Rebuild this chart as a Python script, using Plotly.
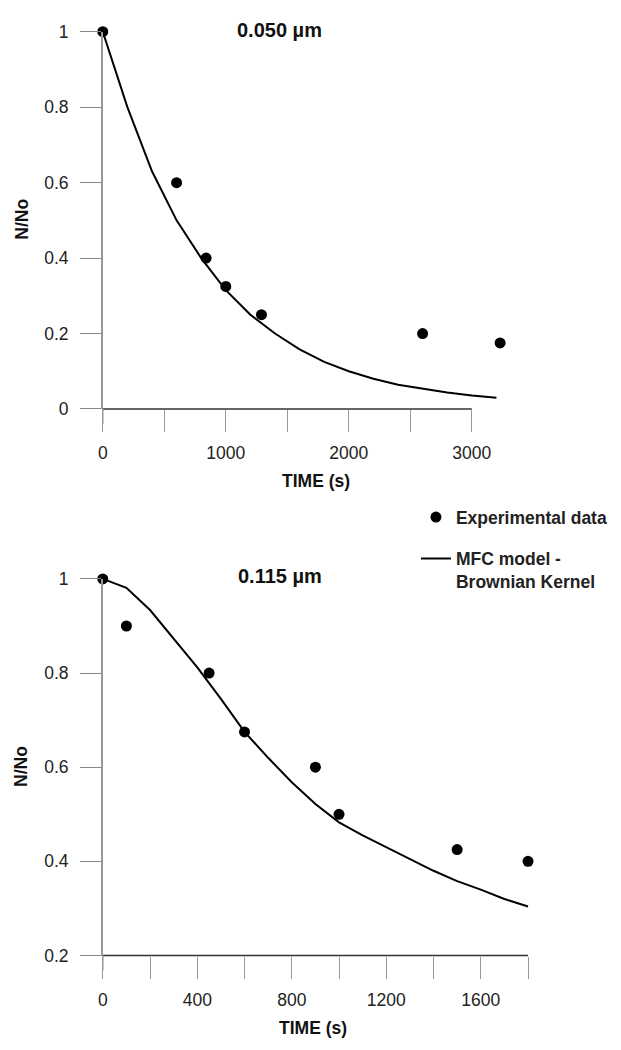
import plotly.graph_objects as go

# The page body has an 8px default margin, so the figure is sized to fit the window.
OFF = 8
FW, FH = 621 - 2 * OFF, 1050 - 2 * OFF


def px(sx):
    return (sx - OFF) / FW


def py(sy):
    return 1 - (sy - OFF) / FH


# ---- Panel A : 0.050 um ----
exp_t_a = [0, 600, 840, 1000, 1290, 2600, 3230]
exp_n_a = [1.0, 0.60, 0.40, 0.325, 0.25, 0.20, 0.175]
mod_t_a = [0, 200, 400, 600, 800, 1000, 1200, 1400, 1600, 1800, 2000,
           2200, 2400, 2600, 2800, 3000, 3200]
mod_n_a = [1.0, 0.80, 0.63, 0.50, 0.40, 0.315, 0.25, 0.20, 0.158, 0.125, 0.10,
           0.08, 0.064, 0.053, 0.044, 0.036, 0.03]

# ---- Panel B : 0.115 um ----
exp_t_b = [0, 100, 450, 600, 900, 1000, 1500, 1800]
exp_n_b = [1.0, 0.90, 0.80, 0.675, 0.60, 0.50, 0.425, 0.40]
mod_t_b = [0, 100, 200, 300, 400, 500, 600, 700, 800, 900, 1000,
           1100, 1200, 1300, 1400, 1500, 1600, 1700, 1800]
mod_n_b = [1.0, 0.981, 0.934, 0.872, 0.812, 0.745, 0.675, 0.62, 0.568, 0.522, 0.483,
           0.455, 0.43, 0.404, 0.38, 0.358, 0.34, 0.32, 0.304]

ticks_xa = [0, 500, 1000, 1500, 2000, 2500, 3000]
labels_xa = ["0", "", "1000", "", "2000", "", "3000"]
ticks_xb = [0, 200, 400, 600, 800, 1000, 1200, 1400, 1600, 1800]
labels_xb = ["0", "", "400", "", "800", "", "1200", "", "1600", ""]
ticks_ya = [0, 0.2, 0.4, 0.6, 0.8, 1.0]
labels_ya = ["0", "0.2", "0.4", "0.6", "0.8", "1"]
ticks_yb = [0.2, 0.4, 0.6, 0.8, 1.0]
labels_yb = ["0.2", "0.4", "0.6", "0.8", "1"]

FONT = "Liberation Sans, Arial, sans-serif"
TICKF = dict(family=FONT, size=17.5, color="#222")

fig = go.Figure()
fig.add_trace(go.Scatter(x=exp_t_a, y=exp_n_a, mode="markers", name="Experimental data",
                         legendgroup="exp", marker=dict(size=11, color="black"),
                         cliponaxis=False, xaxis="x", yaxis="y", showlegend=True))
fig.add_trace(go.Scatter(x=mod_t_a, y=mod_n_a, mode="lines",
                         name="MFC model -<br>Brownian Kernel", legendgroup="mod",
                         line=dict(color="black", width=2),
                         xaxis="x", yaxis="y", showlegend=True))
fig.add_trace(go.Scatter(x=exp_t_b, y=exp_n_b, mode="markers", name="Experimental data",
                         legendgroup="exp", marker=dict(size=11, color="black"),
                         cliponaxis=False, xaxis="x2", yaxis="y2", showlegend=False))
fig.add_trace(go.Scatter(x=mod_t_b, y=mod_n_b, mode="lines", name="MFC model",
                         legendgroup="mod", line=dict(color="black", width=2),
                         xaxis="x2", yaxis="y2", showlegend=False))

# screen-pixel layout
xa_dom = [px(100.7), px(100.7 + 3300 * 0.127)]
ya_dom = [py(406.7), py(22)]
xb_dom = [px(100.7), px(100.7 + 1850 * 0.2439)]
yb_dom = [py(964), py(580)]

common_x = dict(showline=False, showgrid=False, zeroline=False, ticks="outside",
                ticklen=22, tickwidth=1, tickcolor="#999", tickfont=TICKF,
                ticklabelstandoff=6)
common_y = dict(showline=True, linecolor="#999", linewidth=1.5, showgrid=False,
                zeroline=False, ticks="outside", ticklen=21, tickwidth=1,
                tickcolor="#888", tickfont=TICKF, ticklabelstandoff=8)

fig.update_layout(
    width=FW, height=FH, margin=dict(l=0, r=0, t=0, b=0),
    paper_bgcolor="white", plot_bgcolor="white",
    xaxis=dict(domain=xa_dom, range=[0, 3300], anchor="y", tickvals=ticks_xa,
               ticktext=labels_xa, **common_x),
    yaxis=dict(domain=ya_dom, range=[0, 1], anchor="x", tickvals=ticks_ya,
               ticktext=labels_ya, **common_y),
    xaxis2=dict(domain=xb_dom, range=[0, 1850], anchor="y2", tickvals=ticks_xb,
                ticktext=labels_xb, **common_x),
    yaxis2=dict(domain=yb_dom, range=[0.2, 1], anchor="x2", tickvals=ticks_yb,
                ticktext=labels_yb, **common_y),
    legend=dict(x=px(424), y=py(498.7), xanchor="left", yanchor="top",
                font=dict(family=FONT, size=17.5, color="#222", weight="bold"),
                traceorder="grouped", tracegroupgap=15.6, valign="top",
                bgcolor="rgba(0,0,0,0)", itemwidth=30),
    showlegend=True,
)

# axis base lines (ending at the last tick, as in the original)
fig.add_shape(type="line", xref="x", yref="paper", x0=0, x1=3000,
              y0=ya_dom[0], y1=ya_dom[0], line=dict(color="#333", width=1.5))
fig.add_shape(type="line", xref="x2", yref="paper", x0=0, x1=1800,
              y0=yb_dom[0], y1=yb_dom[0], line=dict(color="#333", width=1.5))
# y-axis line extending slightly below the x-axis
for yd in (ya_dom[0], yb_dom[0]):
    fig.add_shape(type="line", xref="paper", yref="paper", x0=xa_dom[0], x1=xa_dom[0],
                  y0=yd, y1=yd - 15 / FH, line=dict(color="#999", width=1.5))


def ann(text, sx, sy, size=17.5, angle=0):
    fig.add_annotation(text="<b>%s</b>" % text, x=px(sx), y=py(sy), xref="paper",
                       yref="paper", showarrow=False, xanchor="center",
                       yanchor="middle", textangle=angle,
                       font=dict(family=FONT, size=size, color="#111"))


ann("0.050 µm", 283, 20, size=20)
ann("0.115 µm", 283.5, 577, size=20)
ann("N/No", 17, 213, angle=-90)
ann("N/No", 17, 771, angle=-90)
ann("TIME (s)", 320.5, 480)
ann("TIME (s)", 318, 1037.5)

fig.write_html("out.html")
